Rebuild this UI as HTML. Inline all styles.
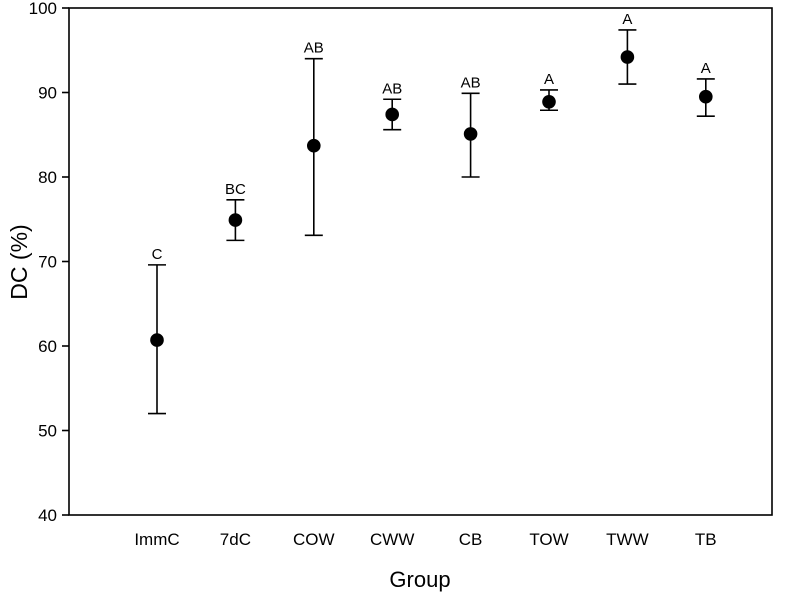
<!DOCTYPE html>
<html><head><meta charset="utf-8"><style>
body{margin:0;background:#fff;}
svg text{font-family:"Liberation Sans",Arial,sans-serif;fill:#000;}
</style></head><body>
<svg id="chart" width="786" height="596" xmlns="http://www.w3.org/2000/svg">
<rect x="69" y="8" width="703" height="507" fill="none" stroke="#000" stroke-width="1.6"/>
<g id="yaxis"></g>
<g id="xaxis"></g>
<g id="marks"></g>
<text x="420" y="587" font-size="22" text-anchor="middle">Group</text>
<text transform="translate(27,262) rotate(-90)" font-size="23" text-anchor="middle">DC (%)</text>
</svg>
<script>
const categories=["ImmC","7dC","COW","CWW","CB","TOW","TWW","TB"];
const means=[60.7,74.9,83.7,87.4,85.1,88.9,94.2,89.5];
const upper=[69.6,77.3,94.0,89.2,89.9,90.3,97.4,91.6];
const lower=[52.0,72.5,73.1,85.6,80.0,87.9,91.0,87.2];
const letters=["C","BC","AB","AB","AB","A","A","A"];
const yTicks=[40,50,60,70,80,90,100];
const NS="http://www.w3.org/2000/svg";
const y=v=>515-(v-40)*(507/60);
const x=i=>157+i*78.4;
function mk(tag,attrs,parent){const e=document.createElementNS(NS,tag);for(const k in attrs)e.setAttribute(k,attrs[k]);parent.appendChild(e);return e;}
const ya=document.getElementById('yaxis'),xa=document.getElementById('xaxis'),mg=document.getElementById('marks');
yTicks.forEach(t=>{
 const l=mk('line',{x1:62,x2:69,y1:y(t),y2:y(t),stroke:'#000','stroke-width':1.6},ya);
 
 
 const tx=mk('text',{x:57,y:y(t)+6,'font-size':17,'text-anchor':'end'},ya);
 tx.textContent=t;
 
 
});
categories.forEach((c,i)=>{
 const tx=mk('text',{x:x(i),y:545,'font-size':17,'text-anchor':'middle'},xa);
 tx.textContent=c;
 
 
 const g=mk('g',{},mg);
 
 
 const cx=x(i);
 mk('line',{x1:cx,x2:cx,y1:y(upper[i]),y2:y(lower[i]),stroke:'#000','stroke-width':1.6},g);
 mk('line',{x1:cx-9,x2:cx+9,y1:y(upper[i]),y2:y(upper[i]),stroke:'#000','stroke-width':1.6},g);
 mk('line',{x1:cx-9,x2:cx+9,y1:y(lower[i]),y2:y(lower[i]),stroke:'#000','stroke-width':1.6},g);
 mk('circle',{cx:cx,cy:y(means[i]),r:6.8,fill:'#000'},g);
 const lt=mk('text',{x:cx,y:y(upper[i])-6,'font-size':15,'text-anchor':'middle'},g);
 lt.textContent=letters[i];
 
 
});
</script>
</body></html>
